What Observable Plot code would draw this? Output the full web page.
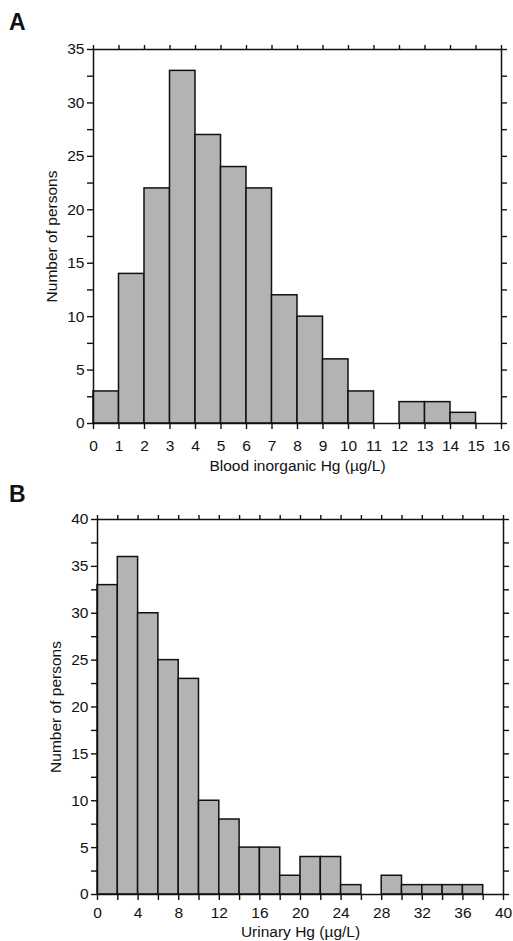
<!DOCTYPE html>
<html><head><meta charset="utf-8">
<script src="https://cdn.jsdelivr.net/npm/d3@7"></script>
<script src="https://cdn.jsdelivr.net/npm/@observablehq/plot@0.6"></script>
<style>
body{margin:0;background:#fff;font-family:"Liberation Sans",Arial,sans-serif}
#wrap{position:relative;width:513px;height:941px;overflow:hidden}
.panel{position:absolute;left:0}
.tag{position:absolute;font-weight:bold;font-size:23px;left:9px;line-height:1;color:#111}
</style></head><body><div id="wrap"></div>
<script>
// Panel A: blood inorganic Hg, 1 µg/L bins
const bloodBinStarts = [0,1,2,3,4,5,6,7,8,9,10,11,12,13,14];
const bloodCounts    = [3,14,22,33,27,24,22,12,10,6,3,0,2,2,1];
const bloodBinWidth = 1;
const bloodXTicks = [0,1,2,3,4,5,6,7,8,9,10,11,12,13,14,15,16];
const bloodYTicks = [0,2.5,5,7.5,10,12.5,15,17.5,20,22.5,25,27.5,30,32.5,35];

// Panel B: urinary Hg, 2 µg/L bins
const urinaryBinStarts = [0,2,4,6,8,10,12,14,16,18,20,22,24,26,28,30,32,34,36];
const urinaryCounts    = [33,36,30,25,23,10,8,5,5,2,4,4,1,0,2,1,1,1,1];
const urinaryBinWidth = 2;
const urinaryXTicks = [0,2,4,6,8,10,12,14,16,18,20,22,24,26,28,30,32,34,36,38,40];
const urinaryYTicks = [0,2.5,5,7.5,10,12.5,15,17.5,20,22.5,25,27.5,30,32.5,35,37.5,40];

const wrap = document.getElementById("wrap");
const FS = 15.5;

function panel({top, height, mt, mb, ml, mr, starts, counts, bw, xTicks, xLabelEvery, yTicks, xmax, ymax, xLabel, xPad, xLabelOffset, tag, tagTop}) {
  const rows = starts.map((s, i) => ({x1: s, x2: s + bw, y: counts[i]})).filter(d => d.y > 0);
  const fmtX = d => (Math.round(d / xLabelEvery) * xLabelEvery === d ? String(d) : "");
  const fmtY = d => (d % 5 === 0 ? String(d) : "");
  const chart = Plot.plot({
    width: 513, height,
    marginTop: mt, marginBottom: mb, marginLeft: ml, marginRight: mr,
    style: {fontSize: FS + "px", fontFamily: '"Liberation Sans", Arial, sans-serif', color: "#111", background: "white"},
    x: {domain: [0, xmax]},
    y: {domain: [0, ymax]},
    marks: [
      Plot.rectY(rows, {x1: "x1", x2: "x2", y: "y", fill: "#b3b3b3", stroke: "#111", strokeWidth: 1.5}),
      Plot.frame({stroke: "#111", strokeWidth: 1.5}),
      Plot.axisX({anchor: "bottom", ticks: xTicks, tickFormat: fmtX, tickSize: 6, tickPadding: xPad, strokeWidth: 1.4, fontSize: FS,
                  label: xLabel, labelAnchor: "center", labelArrow: "none", labelOffset: xLabelOffset}),
      Plot.axisX({anchor: "top", ticks: xTicks, tickFormat: () => "", tickSize: 5, strokeWidth: 1.4, label: null}),
      Plot.axisY({anchor: "left", ticks: yTicks, tickFormat: fmtY, tickSize: 6, tickPadding: 3, strokeWidth: 1.4, fontSize: FS,
                  label: "Number of persons", labelAnchor: "center", labelArrow: "none", labelOffset: 48}),
      Plot.axisY({anchor: "right", ticks: yTicks, tickFormat: () => "", tickSize: 5, strokeWidth: 1.4, label: null})
    ]
  });
  const div = document.createElement("div");
  div.className = "panel";
  div.style.top = top + "px";
  div.appendChild(chart);
  wrap.appendChild(div);
  const t = document.createElement("div");
  t.className = "tag";
  t.style.top = tagTop + "px";
  t.textContent = tag;
  wrap.appendChild(t);
}

panel({top: 0, height: 475, mt: 49, mb: 52, ml: 93, mr: 12,
       starts: bloodBinStarts, counts: bloodCounts, bw: bloodBinWidth,
       xTicks: bloodXTicks, xLabelEvery: 1, yTicks: bloodYTicks, xmax: 16, ymax: 35,
       xLabel: "Blood inorganic Hg (µg/L)", xPad: 10, xLabelOffset: 47, tag: "A", tagTop: 11});
panel({top: 475, height: 466, mt: 44, mb: 47, ml: 97, mr: 10,
       starts: urinaryBinStarts, counts: urinaryCounts, bw: urinaryBinWidth,
       xTicks: urinaryXTicks, xLabelEvery: 4, yTicks: urinaryYTicks, xmax: 40, ymax: 40,
       xLabel: "Urinary Hg (µg/L)", xPad: 6, xLabelOffset: 42, tag: "B", tagTop: 483});
</script></body></html>
